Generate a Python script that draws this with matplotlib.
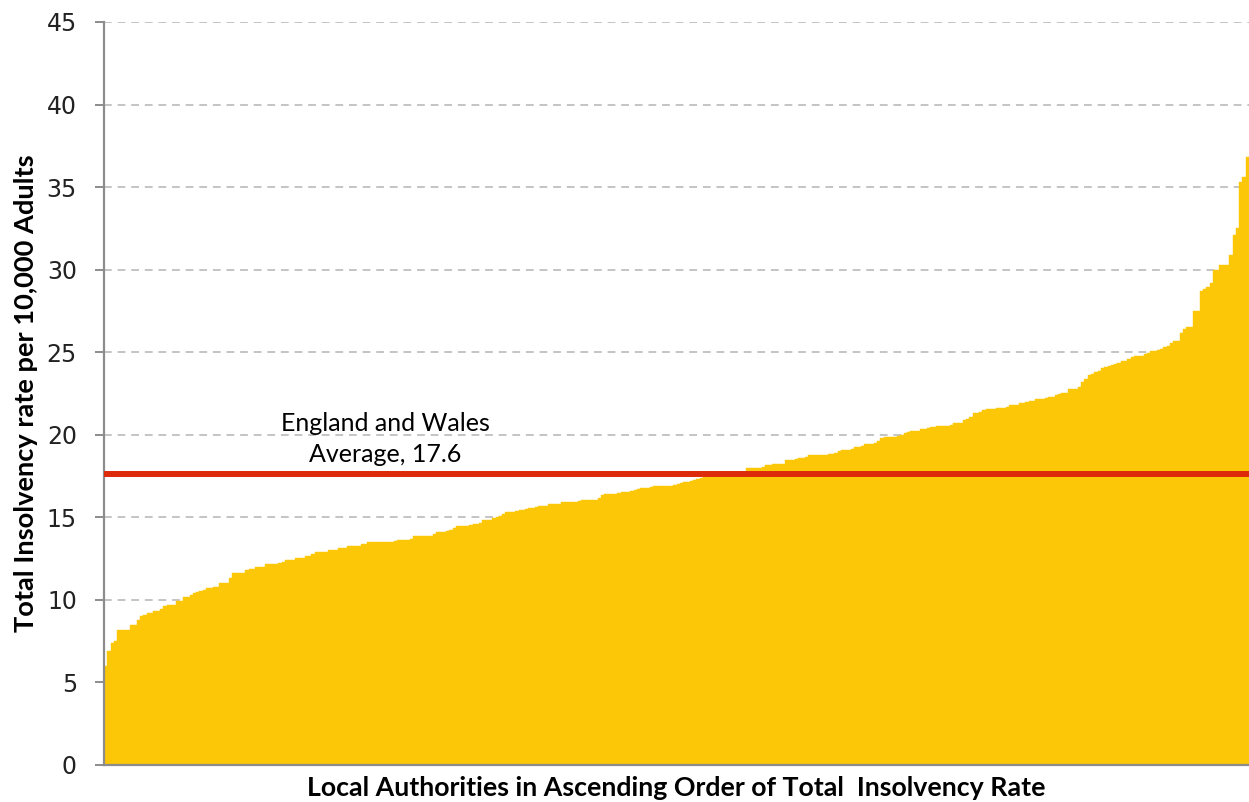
import matplotlib.pyplot as plt
import numpy as np

# Total insolvency rate per 10,000 adults, one bar per local authority (sorted)
rates = [
    6.0, 6.9, 7.4, 7.5, 8.2, 8.2, 8.2, 8.2, 8.5, 8.5,
    8.8, 9.0, 9.1, 9.2, 9.2, 9.3, 9.35, 9.45, 9.6, 9.7,
    9.7, 9.7, 9.95, 9.95, 10.2, 10.2, 10.3, 10.4, 10.45, 10.55,
    10.6, 10.7, 10.7, 10.8, 10.8, 11.0, 11.05, 11.05, 11.3, 11.6,
    11.65, 11.65, 11.65, 11.8, 11.9, 11.9, 12.0, 12.0, 12.0, 12.15,
    12.15, 12.15, 12.15, 12.25, 12.3, 12.4, 12.4, 12.4, 12.55, 12.55,
    12.55, 12.65, 12.65, 12.8, 12.9, 12.9, 12.9, 12.9, 13.0, 13.0,
    13.0, 13.15, 13.15, 13.15, 13.25, 13.25, 13.25, 13.25, 13.4, 13.4,
    13.5, 13.5, 13.5, 13.5, 13.5, 13.5, 13.5, 13.5, 13.55, 13.6,
    13.6, 13.6, 13.6, 13.7, 13.85, 13.85, 13.85, 13.85, 13.85, 13.85,
    14.0, 14.1, 14.1, 14.1, 14.2, 14.25, 14.35, 14.45, 14.45, 14.45,
    14.45, 14.55, 14.6, 14.6, 14.65, 14.85, 14.85, 14.85, 14.95, 15.05,
    15.1, 15.2, 15.3, 15.3, 15.3, 15.4, 15.45, 15.45, 15.5, 15.55,
    15.55, 15.65, 15.7, 15.7, 15.7, 15.8, 15.8, 15.8, 15.8, 15.9,
    15.95, 15.95, 15.95, 15.95, 16.0, 16.05, 16.05, 16.05, 16.05, 16.05,
    16.2, 16.35, 16.4, 16.4, 16.4, 16.4, 16.5, 16.55, 16.55, 16.55,
    16.6, 16.65, 16.7, 16.8, 16.8, 16.8, 16.85, 16.9, 16.9, 16.9,
    16.9, 16.9, 16.9, 16.95, 17.0, 17.1, 17.15, 17.15, 17.2, 17.25,
    17.3, 17.4, 17.45, 17.5, 17.5, 17.55, 17.55, 17.6, 17.6, 17.6,
    17.65, 17.65, 17.65, 17.7, 17.7, 18.0, 18.0, 18.0, 18.0, 18.0,
    18.05, 18.15, 18.15, 18.25, 18.25, 18.25, 18.25, 18.5, 18.5, 18.5,
    18.55, 18.6, 18.6, 18.65, 18.75, 18.75, 18.75, 18.75, 18.75, 18.8,
    18.85, 18.85, 18.9, 19.0, 19.1, 19.1, 19.1, 19.15, 19.25, 19.25,
    19.3, 19.45, 19.45, 19.45, 19.5, 19.6, 19.8, 19.85, 19.85, 19.85,
    19.85, 19.95, 20.0, 20.1, 20.15, 20.2, 20.2, 20.25, 20.35, 20.35,
    20.4, 20.45, 20.45, 20.55, 20.55, 20.55, 20.55, 20.6, 20.7, 20.7,
    20.7, 20.9, 20.95, 21.05, 21.3, 21.3, 21.4, 21.5, 21.55, 21.55,
    21.55, 21.6, 21.65, 21.65, 21.7, 21.8, 21.8, 21.8, 21.9, 21.95,
    22.0, 22.05, 22.05, 22.15, 22.15, 22.15, 22.2, 22.3, 22.3, 22.4,
    22.45, 22.5, 22.55, 22.75, 22.75, 22.8, 22.9, 23.2, 23.4, 23.65,
    23.7, 23.8, 23.85, 24.05, 24.1, 24.15, 24.2, 24.3, 24.35, 24.45,
    24.45, 24.6, 24.7, 24.75, 24.8, 24.8, 24.9, 24.95, 25.05, 25.1,
    25.15, 25.2, 25.3, 25.4, 25.55, 25.65, 25.65, 26.15, 26.4, 26.5,
    26.5, 27.5, 27.5, 28.7, 28.8, 28.95, 29.2, 29.95, 29.95, 30.3,
    30.3, 30.3, 30.9, 32.1, 32.5, 35.3, 35.6, 36.8,
]
average = 17.6
y_ticks = [0, 5, 10, 15, 20, 25, 30, 35, 40, 45]

fig = plt.figure(figsize=(12.49, 8.02), dpi=100)
ax = fig.add_axes([104 / 1249, 1 - 765 / 802, 1 - 104 / 1249, (765 - 22) / 802])

x = np.arange(len(rates))
ax.bar(x, rates, width=1.0, color='#fbc707', edgecolor='#fbc707',
       linewidth=0.3, zorder=2)
ax.axhline(average, color='#dc2a0a', linewidth=4.3, zorder=3)

ax.text(85, 18.1, 'England and Wales\nAverage, 17.6', ha='center', va='bottom',
        fontsize=18, family='Lato', linespacing=1.45, zorder=4)

ax.set_xlim(-0.5, len(rates) - 0.5)
ax.set_ylim(0, 45)
ax.set_yticks(y_ticks)
ax.set_xticks([])
ax.tick_params(axis='y', length=6.5, width=1.4, color='#8c8c8c', pad=13,
               labelsize=17)
for lbl in ax.get_yticklabels():
    lbl.set_color('#222222')

ax.yaxis.grid(True, color='#c4c4c4', linewidth=1.4, linestyle=(0, (4, 3)))
ax.set_axisbelow(True)

for side in ['top', 'right']:
    ax.spines[side].set_visible(False)
ax.spines['left'].set_color('#8c8c8c')
ax.spines['left'].set_linewidth(1.6)
ax.spines['bottom'].set_color('#8c8c8c')
ax.spines['bottom'].set_linewidth(1.6)

ax.set_ylabel('Total Insolvency rate per 10,000 Adults', family='Lato',
              fontweight='bold', fontsize=19.6)
ax.yaxis.set_label_coords(-0.058, 0.5)
ax.set_xlabel('Local Authorities in Ascending Order of Total  Insolvency Rate',
              family='Lato', fontweight='bold', fontsize=19.3, labelpad=8)

fig.savefig('out.png', dpi=100)
